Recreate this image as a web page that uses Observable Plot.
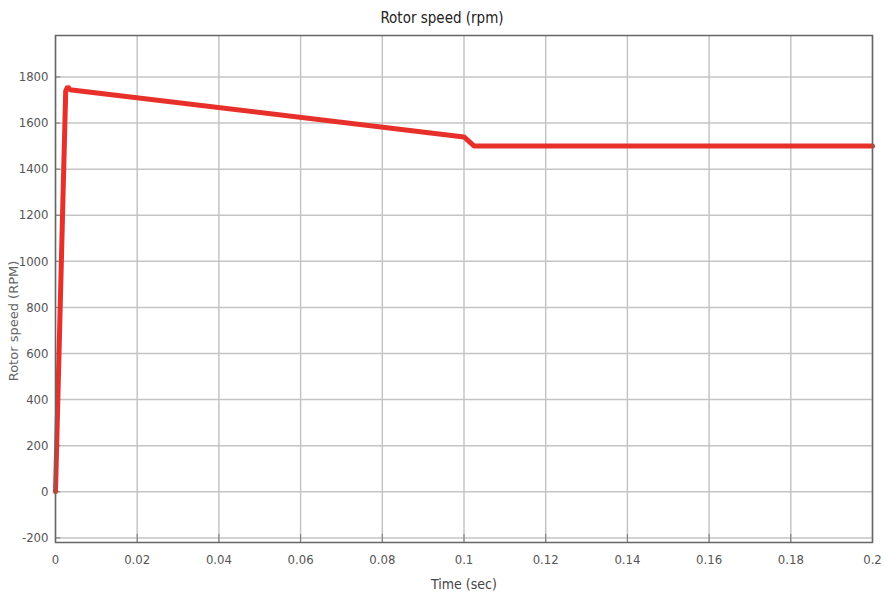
<!DOCTYPE html>
<html><head><meta charset="utf-8">
<script src="https://cdn.jsdelivr.net/npm/d3@7"></script>
<script src="https://cdn.jsdelivr.net/npm/@observablehq/plot@0.6"></script>
<style>
body{margin:0;background:#fff;}
#title{height:30px;width:884px;text-align:center;font-family:"DejaVu Sans Condensed","Liberation Sans Narrow",sans-serif;font-size:15px;color:#222;line-height:36px;}
</style>
</head><body>
<div id="title">Rotor speed (rpm)</div>
<div id="chart"></div>
<script>
const time = [0, 0.0025, 0.003, 0.0035, 0.1, 0.1025, 0.2];
const speed = [0, 1740, 1758, 1745, 1540, 1500, 1500];
const xTicks = [0, 0.02, 0.04, 0.06, 0.08, 0.1, 0.12, 0.14, 0.16, 0.18, 0.2];
const yTicks = [-200, 0, 200, 400, 600, 800, 1000, 1200, 1400, 1600, 1800];

const data = time.map((t, i) => ({t, v: speed[i]}));
const font = '"DejaVu Sans Condensed","Liberation Sans Narrow",sans-serif';
const fmtX = d => String(+d.toFixed(2));
const fmtY = d => String(d);

const chart = Plot.plot({
  width: 884, height: 570,
  marginTop: 5, marginBottom: 58, marginLeft: 55, marginRight: 12,
  style: {fontFamily: font, fontSize: "13px", color: "#555", background: "#fff"},
  x: {domain: [0, 0.2], ticks: xTicks, tickFormat: fmtX, label: null},
  y: {domain: [-220, 1980], ticks: yTicks, tickFormat: fmtY, label: null},
  marks: [
    Plot.gridX(xTicks, {stroke: "#c4c4c4", strokeOpacity: 1, strokeWidth: 1.5}),
    Plot.gridY(yTicks, {stroke: "#c4c4c4", strokeOpacity: 1, strokeWidth: 1.5}),
    Plot.axisX(xTicks, {tickSize: 0, tickPadding: 12, fill: "#555", tickFormat: fmtX, label: null}),
    Plot.axisY(yTicks, {tickSize: 0, tickPadding: 7, fill: "#555", tickFormat: fmtY, label: null}),
    Plot.ruleX(xTicks, {x: d => d, y1: -220, y2: -185, stroke: "#777"}),
    Plot.ruleY(yTicks, {y: d => d, x1: 0, x2: 0.0013, stroke: "#777"}),
    Plot.line(data, {x: "t", y: "v", stroke: "#e8302a", strokeWidth: 5, strokeLinejoin: "miter"}),
    Plot.frame({stroke: "#666", strokeWidth: 1.5}),
    Plot.text(["Time (sec)"], {frameAnchor: "bottom", dy: 46, fill: "#444", fontSize: 14}),
    Plot.text(["Rotor speed (RPM)"], {frameAnchor: "left", textAnchor: "middle", dx: -42, dy: 32, rotate: -90, fill: "#666", fontSize: 13, fontFamily: "DejaVu Sans", letterSpacing: "1.5px"})
  ]
});
document.getElementById("chart").append(chart);
</script>
</body></html>
